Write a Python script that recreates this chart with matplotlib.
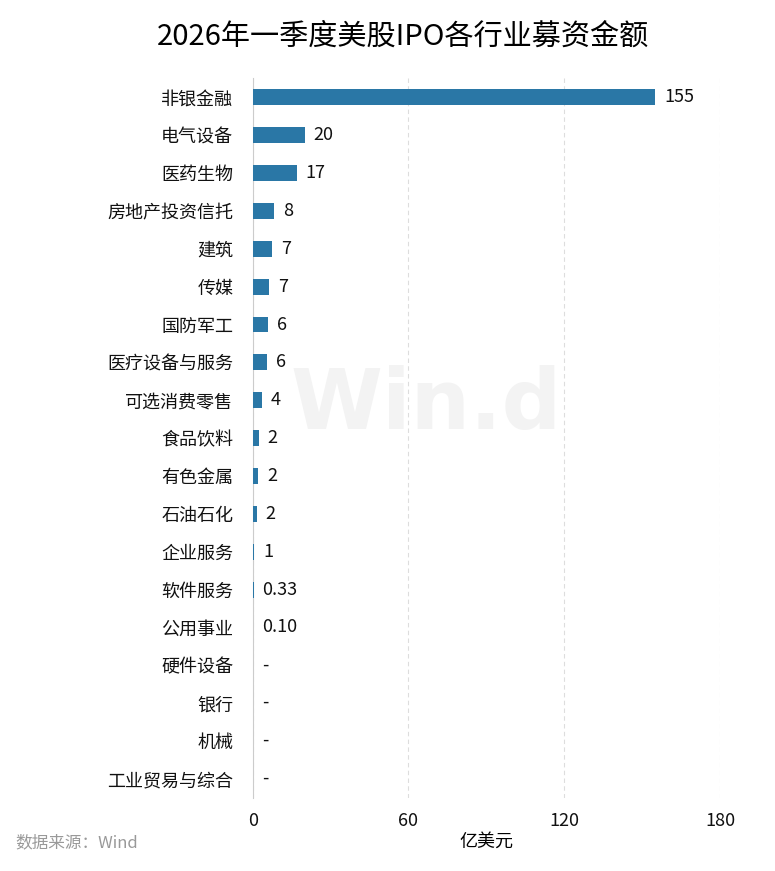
import numpy as np
import matplotlib.pyplot as plt

plt.rcParams['font.family'] = ['Noto Sans CJK SC', 'DejaVu Sans']

industries = ["非银金融", "电气设备", "医药生物", "房地产投资信托", "建筑", "传媒", "国防军工",
              "医疗设备与服务", "可选消费零售", "食品饮料", "有色金属", "石油石化", "企业服务",
              "软件服务", "公用事业", "硬件设备", "银行", "机械", "工业贸易与综合"]
values = [155, 20, 17, 8.1, 7.3, 6.4, 5.8, 5.5, 3.5, 2.3, 2.2, 1.5, 0.5, 0.33, 0.10, 0, 0, 0, 0]
labels = ["155", "20", "17", "8", "7", "7", "6", "6", "4", "2", "2", "2", "1",
          "0.33", "0.10", "-", "-", "-", "-"]

fig = plt.figure(figsize=(7.75, 8.71), dpi=100)
ax = fig.add_axes([0.326, 0.084, 0.603, 0.826])
y = np.arange(len(industries))
ax.barh(y, values, height=0.42, color="#2a77a6", zorder=3)
for yi, v, lab in zip(y, values, labels):
    ax.text(v + 3.5, yi, lab, va="center", ha="left", fontsize=13, color="#111111")

ax.set_ylim(len(industries) - 0.5, -0.5)
ax.set_xlim(0, 180)
ax.set_xticks([0, 60, 120, 180])
ax.set_yticks(y)
ax.set_yticklabels(industries, fontsize=13)
ax.tick_params(axis="both", length=0, labelsize=13, colors="#111111")
ax.tick_params(axis="y", pad=14)
ax.tick_params(axis="x", pad=10)
ax.xaxis.grid(True, linestyle=(0, (4, 3)), color="#dddddd", linewidth=0.8, zorder=0)
for s in ["top", "right", "bottom"]:
    ax.spines[s].set_visible(False)
ax.spines["left"].set_color("#cccccc")
ax.set_xlabel("亿美元", fontsize=13, labelpad=2)

fig.text(0.52, 0.958, "2026年一季度美股IPO各行业募资金额", ha="center", va="center", fontsize=21)
fig.text(0.02, 0.032, "数据来源：Wind", ha="left", va="center", fontsize=12, color="#999999")
fig.text(0.55, 0.535, "Win.d", ha="center", va="center", fontsize=60, color="#f3f3f3",
         fontweight="bold", family="DejaVu Sans", zorder=0)

fig.savefig("out.png", dpi=100)
